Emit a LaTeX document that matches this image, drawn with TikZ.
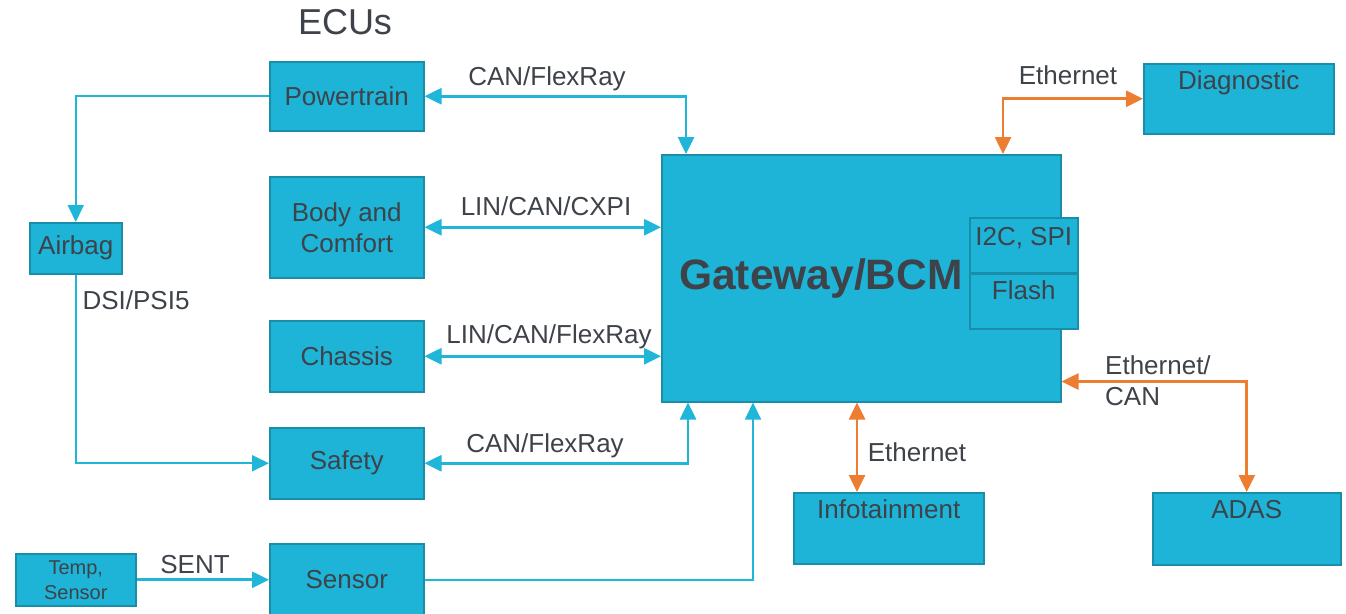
\documentclass[tikz,border=0pt]{standalone}
\usepackage{fontspec}
\setmainfont{Liberation Sans}
\usetikzlibrary{arrows.meta}
\definecolor{boxfill}{HTML}{1DB4D8}
\definecolor{boxline}{HTML}{1A8EA8}
\definecolor{txt}{HTML}{3E4249}
\definecolor{bline}{HTML}{1FB6DA}
\definecolor{oline}{HTML}{ED7D31}
\tikzset{
  box/.style={draw=boxline, fill=boxfill, line width=1.5pt, text=txt, font=\fontsize{26}{31}\selectfont, align=center, anchor=north west, inner sep=0pt},
  lbl/.style={text=txt, font=\fontsize{26}{31}\selectfont, inner sep=0pt, text height=18.7pt, text depth=0pt},
  bconn/.style={draw=bline, line width=2.6pt},
  thinconn/.style={draw=bline, line width=1.8pt},
  oconn/.style={draw=oline, line width=2.6pt},
  tip/.style={arrows={-{Triangle[length=17pt,width=16pt]}}},
  tips/.style={arrows={{Triangle[length=17pt,width=16pt]}-{Triangle[length=17pt,width=16pt]}}}
}
\begin{document}
\begin{tikzpicture}[x=1pt,y=-1pt]
\useasboundingbox (0,0) rectangle (1346,613);
% title
\node[text=txt, font=\fontsize{36}{40}\selectfont, inner sep=0pt] (ecus) at (345,22) {ECUs};
% ECU boxes
\node[box, minimum width=154pt, minimum height=69pt] (pt) at (269,61) {Powertrain};
\node[box, minimum width=154pt, minimum height=101pt] (bc) at (269,176) {Body and\\Comfort};
\node[box, minimum width=154pt, minimum height=71pt] (ch) at (269,320) {Chassis};
\node[box, minimum width=154pt, minimum height=71pt] (sf) at (269,427) {Safety};
\node[box, minimum width=154pt, minimum height=72pt] (sn) at (269,543) {Sensor};
\node[box, minimum width=92pt, minimum height=51pt] (ab) at (29,222) {Airbag};
\node[box, minimum width=120pt, minimum height=52pt, font=\fontsize{20}{25}\selectfont] (ts) at (15,553) {Temp,\\Sensor};
% gateway
\node[box, minimum width=399pt, minimum height=247pt] (gw) at (661,154) {};
\node[text=txt, font=\fontsize{42.5}{48}\selectfont\bfseries, inner sep=0pt] (gwt) at (821,279) {Gateway/BCM};
\node[box, minimum width=108pt, minimum height=55pt] (i2c) at (969,217) {};
\node[box, minimum width=108pt, minimum height=55pt] (fl) at (969,273) {};
\node[lbl, anchor=north] (i2ct) at ([yshift=-10pt]i2c.north) {I2C, SPI};
\node[lbl, anchor=north] (flt) at ([yshift=-8pt]fl.north) {Flash};
% right boxes (text at top)
\node[box, minimum width=190pt, minimum height=70pt] (dg) at (1143,63) {};
\node[lbl, anchor=north] (dgt) at ([yshift=-8pt]dg.north) {Diagnostic};
\node[box, minimum width=190pt, minimum height=71pt] (inf) at (793,492) {};
\node[lbl, anchor=north] (inft) at ([yshift=-8pt]inf.north) {Infotainment};
\node[box, minimum width=188pt, minimum height=72pt] (ad) at (1152,492) {};
\node[lbl, anchor=north] (adt) at ([yshift=-8pt]ad.north) {ADAS};
% blue connectors
\draw[bconn, tips] (pt.east) -| ([xshift=25pt]gw.north west);
\draw[bconn, tips] (bc.east) -- (bc.east -| gw.west);
\draw[bconn, tips] (ch.east) -- (ch.east -| gw.west);
\draw[bconn, tips] (sf.east) -| ([xshift=27pt]gw.south west);
\draw[thinconn, tip] (sn.east) -| ([xshift=92pt]gw.south west);
\draw[thinconn, tip] (pt.west) -| (ab.north);
\draw[thinconn, tip] (ab.south) |- (sf.west);
\draw[bconn, tip] (ts.east) -- (ts.east -| sn.west);
% orange connectors
\draw[oconn, tips] ([xshift=342pt]gw.north west) |- (dg.west);
\draw[oconn, tips] ([xshift=196pt]gw.south west) -- ([xshift=196pt]gw.south west |- inf.north);
\draw[oconn, tips] ([yshift=21pt]gw.south east) -| (ad.north);
% connector labels
\node[lbl] (l1) at (547,76) {CAN/FlexRay};
\node[lbl] (l2) at (546,206) {LIN/CAN/CXPI};
\node[lbl] (l3) at (549,334) {LIN/CAN/FlexRay};
\node[lbl] (l4) at (545,443) {CAN/FlexRay};
\node[lbl] (l5) at (136,300) {DSI/PSI5};
\node[lbl] (l6) at (195,564) {SENT};
\node[lbl] (l7) at (1068,75) {Ethernet};
\node[lbl] (l8) at (917,452) {Ethernet};
\node[text=txt, font=\fontsize{26}{31}\selectfont, inner sep=0pt, align=left, anchor=west] (l9) at (1105,381) {Ethernet/\\CAN};
\end{tikzpicture}
\end{document}
